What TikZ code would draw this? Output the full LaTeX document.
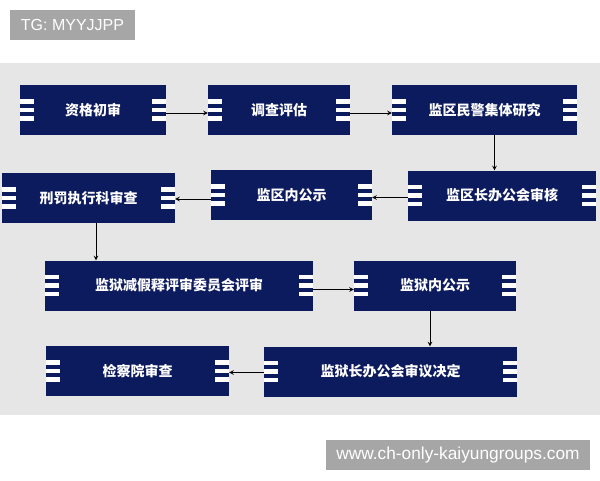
\documentclass[tikz,border=0pt]{standalone}
\usepackage{fontspec}
\setmainfont{Liberation Sans}
\newfontfamily\cjk{Noto Sans CJK SC}
\definecolor{navy}{RGB}{12,26,94}
\definecolor{paper}{RGB}{230,230,230}
\definecolor{tagfill}{RGB}{166,166,166}
\tikzset{
  stepbox/.style={fill=navy, text=white, inner sep=0pt, minimum height=50pt,
    font=\cjk\bfseries\fontsize{14}{16}\selectfont,
    path picture={
      \foreach \s in {-8.5,0,8.5} {
        \fill[white] ([yshift=\s pt]path picture bounding box.west) ++(0pt,-2.4pt) rectangle ++(14pt,4.8pt);
        \fill[white] ([yshift=\s pt]path picture bounding box.east) ++(0pt,-2.4pt) rectangle ++(-14pt,4.8pt);
      }
    }},
  tagbox/.style={fill=tagfill, text=white, inner sep=0pt, minimum height=30pt},
  flow/.style={-stealth, line width=1pt}
}
\begin{document}
\begin{tikzpicture}[x=1pt, y=-1pt]
    \useasboundingbox (0,0) rectangle (600,480);

    % paper
    \fill[paper] (0,63) rectangle (600,415);

    % tags
    \node [tagbox, minimum width=125pt, font=\fontsize{16}{18}\selectfont] (tg) at (72.5,25) {TG: MYYJJPP};
    \node [tagbox, minimum width=264pt, font=\fontsize{17.3}{19}\selectfont] (web) at (458,455) {www.ch-only-kaiyungroups.com};

    % first row
    \node [stepbox, minimum width=146pt] (s1) at (93,110) {资格初审};
    \node [stepbox, minimum width=142pt] (s2) at (279,110) {调查评估};
    \node [stepbox, minimum width=185pt] (s3) at (484.5,110) {监区民警集体研究};

    % second row
    \node [stepbox, minimum width=188pt] (s4) at (502,195.5) {监区长办公会审核};
    \node [stepbox, minimum width=161pt] (s5) at (291.5,195) {监区内公示};
    \node [stepbox, minimum width=173pt] (s6) at (88.5,198) {刑罚执行科审查};

    % third row
    \node [stepbox, minimum width=268pt] (s7) at (179,285.5) {监狱减假释评审委员会评审};
    \node [stepbox, minimum width=162pt] (s8) at (435,285.5) {监狱内公示};

    % fourth row
    \node [stepbox, minimum width=253pt] (s9) at (390.5,371.5) {监狱长办公会审议决定};
    \node [stepbox, minimum width=183pt] (s10) at (137.5,371) {检察院审查};

    % Edges
    \draw [flow] ([yshift=-3pt]s1.east) -- ([yshift=-3pt]s1.east -| s2.west);
    \draw [flow] ([yshift=-3pt]s2.east) -- ([yshift=-3pt]s2.east -| s3.west);
    \draw [flow] ([xshift=10pt]s3.south) -- ([xshift=10pt]s3.south |- s4.north);
    \draw [flow] ([yshift=-2pt]s4.west) -- ([yshift=-2pt]s4.west -| s5.east);
    \draw [flow] ([yshift=-4pt]s5.west) -- ([yshift=-4pt]s5.west -| s6.east);
    \draw [flow] ([xshift=7.5pt]s6.south) -- ([xshift=7.5pt]s6.south |- s7.north);
    \draw [flow] ([yshift=-4pt]s7.east) -- ([yshift=-4pt]s7.east -| s8.west);
    \draw [flow] ([xshift=-5pt]s8.south) -- ([xshift=-5pt]s8.south |- s9.north);
    \draw [flow] ([yshift=-1pt]s9.west) -- ([yshift=-1pt]s9.west -| s10.east);
  \end{tikzpicture}
\end{document}
